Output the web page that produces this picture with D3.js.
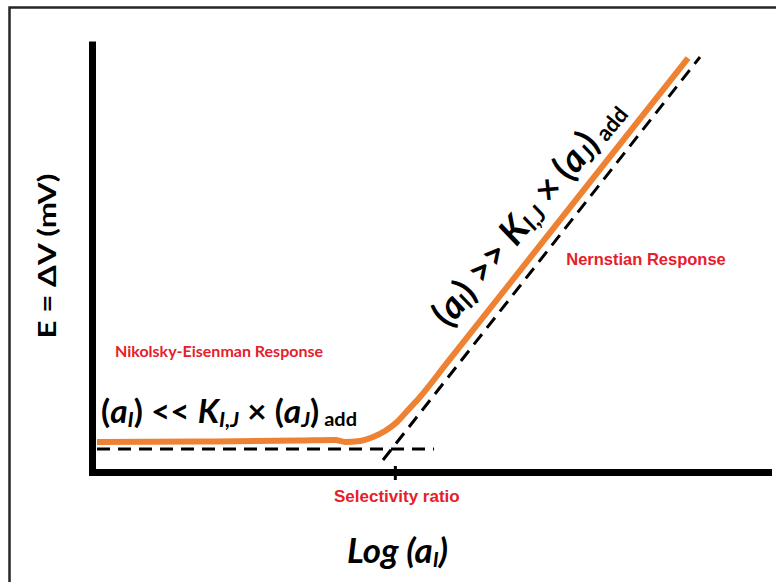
<!DOCTYPE html>
<html>
<head>
<meta charset="utf-8">
<script src="https://cdn.jsdelivr.net/npm/d3@7"></script>
<style>
  body { margin: 0; background: #fff; }
  svg { display: block; }
</style>
</head>
<body>
<script>
// response curve of the electrode, E vs log(aI), arbitrary units 0..100
var curveX = [0.74, 15.98, 30.77, 35.95, 37.43, 39.64, 41.57, 43.34, 45.12, 46.75, 48.52, 52.51, 88.17]
var curveY = [7.02, 7.13, 7.37, 7.49, 7.02, 7.25, 8.19, 9.59, 11.70, 14.50, 17.54, 25.50, 96.84]

// dashed asymptotes
var floorX = [0.74, 50.6]
var floorY = [5.38, 5.38]
var nernstX = [43.05, 89.94]
var nernstY = [2.81, 97.08]

var selectivityRatio = 44.8

var yTitle = "E = \u0394V (mV)"
var regionLabels = ["Nikolsky-Eisenman Response", "Nernstian Response"]
var tickLabel = "Selectivity ratio"

var main = function() {
  var width = 776, height = 582

  var svg = d3.select("body").append("svg")
              .attr("width", width)
              .attr("height", height)

  // frame round the picture (right / bottom edge fall outside)
  svg.append("rect")
     .attr("x", 9.5).attr("y", 7.5)
     .attr("width", 820).attr("height", 620)
     .attr("fill", "none")
     .attr("stroke", "#262626")
     .attr("stroke-width", 2.5)

  var x = d3.scaleLinear().domain([0, 100]).range([92, 768])
  var y = d3.scaleLinear().domain([0, 100]).range([472, 44.5])

  // axes
  var xAxis = svg.append("g")
                 .attr("transform", "translate(0," + y(0) + ")")
                 .call(d3.axisBottom(x).tickValues([selectivityRatio]).tickFormat("").tickSizeOuter(0))
  var yAxis = svg.append("g")
                 .attr("transform", "translate(" + x(0) + ",0)")
                 .call(d3.axisLeft(y).tickValues([]).tickSizeOuter(0))

  svg.selectAll(".domain")
     .attr("stroke", "#000")
     .attr("stroke-width", 7)
     .attr("stroke-linecap", "square")
  xAxis.selectAll(".tick line")
       .attr("y1", -6).attr("y2", 8)
       .attr("stroke", "#000")
       .attr("stroke-width", 3)

  var line = d3.line()
               .x(function(d) { return x(d[0]) })
               .y(function(d) { return y(d[1]) })

  // dashed lines
  svg.append("path")
     .attr("d", line(d3.zip(floorX, floorY)))
     .attr("fill", "none").attr("stroke", "#000")
     .attr("stroke-width", 3).attr("stroke-dasharray", "13,8")
  svg.append("path")
     .attr("d", line(d3.zip(nernstX, nernstY)))
     .attr("fill", "none").attr("stroke", "#000")
     .attr("stroke-width", 3).attr("stroke-dasharray", "13,8")

  // orange response
  svg.append("path")
     .attr("d", line.curve(d3.curveMonotoneX)(d3.zip(curveX, curveY)))
     .attr("fill", "none")
     .attr("stroke", "#ee8232")
     .attr("stroke-width", 6)

  // y title
  svg.append("text")
     .attr("transform", "translate(56,256) rotate(-90)")
     .attr("text-anchor", "middle")
     .attr("font-family", "Lato, sans-serif")
     .attr("font-weight", 700)
     .attr("font-size", "25px")
     .attr("textLength", 165)
     .attr("lengthAdjust", "spacingAndGlyphs")
     .text(yTitle)

  // red labels
  svg.append("text")
     .attr("x", 115).attr("y", 357)
     .attr("font-family", "Lato, sans-serif")
     .attr("font-weight", 700)
     .attr("font-size", "15px")
     .attr("fill", "#e5202a")
     .attr("textLength", 208)
     .attr("lengthAdjust", "spacingAndGlyphs")
     .text(regionLabels[0])
  svg.append("text")
     .attr("x", 646).attr("y", 265)
     .attr("text-anchor", "middle")
     .attr("font-family", "'Liberation Sans', Arial, sans-serif")
     .attr("font-weight", 700)
     .attr("font-size", "16.5px")
     .attr("fill", "#e5202a")
     .text(regionLabels[1])
  svg.append("text")
     .attr("x", x(selectivityRatio) + 2).attr("y", 502)
     .attr("text-anchor", "middle")
     .attr("font-family", "'Liberation Sans', Arial, sans-serif")
     .attr("font-weight", 700)
     .attr("font-size", "17px")
     .attr("fill", "#e5202a")
     .text(tickLabel)

  // formula text: (aI) op KI,J x (aJ) add
  function formula(t, op) {
    t.attr("font-family", "Lato, sans-serif").attr("font-weight", 700)
    t.append("tspan").text("(")
    t.append("tspan").attr("font-style", "italic").text("a")
    t.append("tspan").attr("font-style", "italic").attr("font-size", "0.65em").attr("dy", 4).text("I")
    t.append("tspan").attr("dy", -4).text(")")
    t.append("tspan").text(" " + op + " ")
    t.append("tspan").attr("font-style", "italic").text("K")
    t.append("tspan").attr("font-style", "italic").attr("font-size", "0.65em").attr("dy", 4).text("I,J")
    t.append("tspan").attr("dy", -4).text(" \u00d7 (")
    t.append("tspan").attr("font-style", "italic").text("a")
    t.append("tspan").attr("font-style", "italic").attr("font-size", "0.65em").attr("dy", 4).text("J")
    t.append("tspan").attr("dy", -4).text(")")
    t.append("tspan").attr("font-size", "0.6em").attr("dy", 3).text(" add")
  }

  var f1 = svg.append("text")
              .attr("x", 101).attr("y", 423)
              .attr("font-size", "32px")
              .attr("textLength", 256)
              .attr("lengthAdjust", "spacingAndGlyphs")
  formula(f1, "<<")

  var f2 = svg.append("text")
              .attr("transform", "translate(449,329) rotate(-50.5)")
              .attr("font-size", "37px")
              .attr("textLength", 280)
              .attr("lengthAdjust", "spacingAndGlyphs")
  formula(f2, ">>")

  // x title
  var xt = svg.append("text")
              .attr("x", 347).attr("y", 563)
              .attr("font-family", "Lato, sans-serif")
              .attr("font-weight", 700)
              .attr("font-style", "italic")
              .attr("font-size", "35px")
              .attr("textLength", 101)
              .attr("lengthAdjust", "spacingAndGlyphs")
  xt.append("tspan").text("Log (a")
  xt.append("tspan").attr("font-size", "0.6em").attr("dy", 4).text("I")
  xt.append("tspan").attr("dy", -4).text(")")
}

main()
</script>
</body>
</html>
